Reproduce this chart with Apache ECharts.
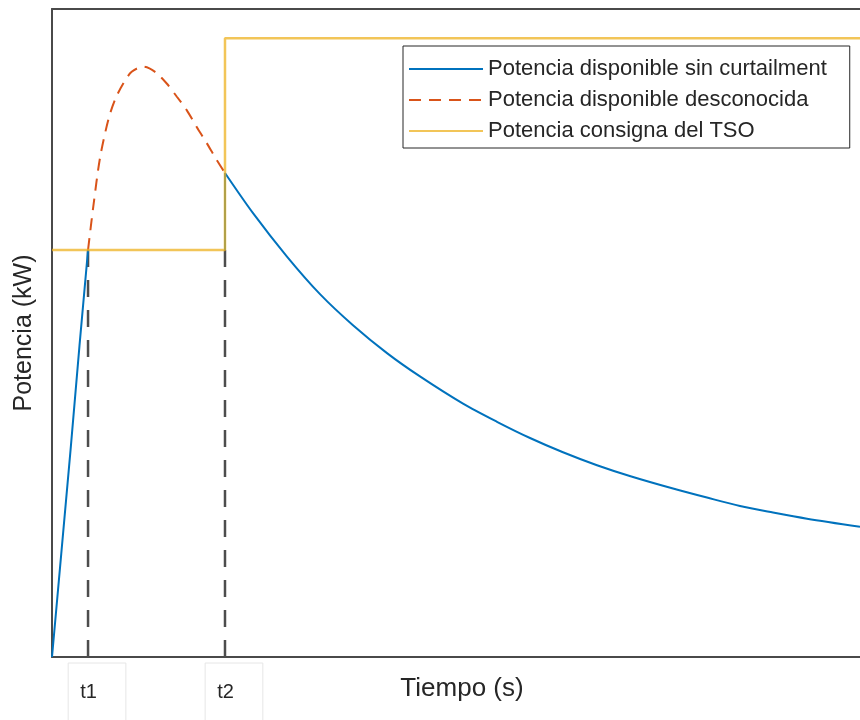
<!DOCTYPE html>
<html>
<head>
<meta charset="utf-8">
<script src="https://cdn.jsdelivr.net/npm/echarts@6/dist/echarts.min.js"></script>
<style>
  html, body { margin: 0; padding: 0; background: #fff; }
  #main { width: 860px; height: 720px; }
</style>
</head>
<body>
<div id="main"></div>
<script>
// marcas del eje x
var tickValues = [4.46, 21.41];
var tickLabels = ['t1', 't2'];

// consigna del TSO
var setpointX = [0, 21.41, 21.41, 100];
var setpointY = [62.8, 62.8, 95.5, 95.5];

// potencia disponible sin curtailment: subida hasta t1
var riseX = [0, 1.15, 2.3, 3.4, 4.46];
var riseY = [0, 16, 32, 48, 62.8];

// salto en t2
var stepX = [21.41, 21.41];
var stepY = [62.8, 74.7];

// potencia disponible sin curtailment (después de t2)
var decayX = [21.41, 24.88, 29.08, 33.17, 37.25, 41.46, 45.54, 50.87, 55.07, 59.16, 63.24, 67.45, 71.6, 76.86, 81.06, 85.15, 89.23, 93.44, 100];
var decayY = [74.7, 68.5, 61.8, 56.0, 51.2, 46.9, 43.3, 39.1, 36.3, 33.8, 31.6, 29.6, 27.9, 26.0, 24.6, 23.3, 22.3, 21.35, 20.1];

// potencia disponible desconocida
var unknownX = [4.46, 5.11, 5.94, 6.97, 7.80, 8.82, 9.86, 11.30, 12.75, 14.20, 15.43, 16.67, 17.91, 19.15, 20.38, 21.41];
var unknownY = [62.8, 69.5, 77.0, 82.9, 86.0, 88.5, 90.3, 91.1, 90.3, 88.5, 86.5, 84.4, 81.8, 79.3, 76.7, 74.7];

var FONT = 'Liberation Sans, Arial, sans-serif';

function zip(xs, ys) {
  var out = [];
  for (var i = 0; i < xs.length; i++) out.push([xs[i], ys[i]]);
  return out;
}

// subida + salto en una sola serie (cortada con '-')
var blueSteps = zip(riseX, riseY).concat([['-', '-']]).concat(zip(stepX, stepY));

// lineas verticales discontinuas en t1 y t2
var guideData = [];
tickValues.forEach(function (t, i) {
  if (i > 0) guideData.push(['-', '-']);
  guideData.push([t, 0]);
  guideData.push([t, setpointY[0]]);
});

var myChart = echarts.init(document.getElementById('main'));
var option = {
  animation: false,
  backgroundColor: '#fff',
  grid: { left: 52, right: 0, top: 9, bottom: 63, outerBoundsMode: 'none', containLabel: false },
  legend: {
    orient: 'vertical',
    left: 403,
    top: 46,
    padding: [12, 23, 6, 5],
    itemWidth: 74,
    itemHeight: 14,
    itemGap: 9,
    borderColor: '#262626',
    borderWidth: 1,
    backgroundColor: '#fff',
    itemStyle: { opacity: 0 },
    textStyle: { fontSize: 22, color: '#262626', fontFamily: FONT },
    data: ['Potencia disponible sin curtailment', 'Potencia disponible desconocida', 'Potencia consigna del TSO']
  },
  xAxis: [
    {
      type: 'value',
      min: 0,
      max: 100,
      name: 'Tiempo (s)',
      nameLocation: 'middle',
      nameGap: 19,
      nameMoveOverlap: false,
      nameTextStyle: { fontSize: 26, color: '#262626', fontFamily: FONT, padding: [0, 0, 0, 12] },
      axisLine: { show: true, lineStyle: { color: '#4a4a4a', width: 2 } },
      axisTick: { show: false },
      splitLine: { show: false },
      axisLabel: {
        show: true,
        customValues: tickValues,
        margin: 6,
        hideOverlap: false,
        formatter: function (v) {
          var best = 0;
          for (var i = 1; i < tickValues.length; i++) {
            if (Math.abs(tickValues[i] - v) < Math.abs(tickValues[best] - v)) best = i;
          }
          return '{pad|}{box|' + tickLabels[best] + '}';
        },
        rich: {
          pad: { width: 18 },
          box: {
            height: 58,
            padding: [0, 29, 0, 12],
            borderColor: '#e6e6e6',
            borderWidth: 1,
            fontSize: 20,
            color: '#262626',
            fontFamily: FONT
          }
        }
      }
    },
    {
      type: 'value',
      position: 'top',
      min: 0,
      max: 100,
      axisLine: { show: true, lineStyle: { color: '#4a4a4a', width: 2 } },
      axisTick: { show: false },
      axisLabel: { show: false },
      splitLine: { show: false }
    }
  ],
  yAxis: {
    type: 'value',
    min: 0,
    max: 100,
    name: 'Potencia (kW)',
    nameLocation: 'middle',
    nameGap: 15,
    nameMoveOverlap: false,
    nameTextStyle: { fontSize: 25, color: '#262626', fontFamily: FONT },
    axisLine: { show: true, lineStyle: { color: '#4a4a4a', width: 2 } },
    axisTick: { show: false },
    axisLabel: { show: false },
    splitLine: { show: false }
  },
  series: [
    {
      name: 'Potencia disponible sin curtailment',
      type: 'line',
      symbol: 'none',
      connectNulls: false,
      data: blueSteps,
      lineStyle: { color: '#0072BD', width: 2 },
      itemStyle: { color: '#0072BD' }
    },
    {
      name: 'Potencia disponible sin curtailment',
      type: 'line',
      symbol: 'none',
      smooth: 0.3,
      data: zip(decayX, decayY),
      lineStyle: { color: '#0072BD', width: 2 },
      itemStyle: { color: '#0072BD' }
    },
    {
      name: 'Potencia disponible desconocida',
      type: 'line',
      symbol: 'none',
      smooth: 0.3,
      data: zip(unknownX, unknownY),
      lineStyle: { color: '#D95319', width: 2, type: [12, 8] },
      itemStyle: { color: '#D95319' }
    },
    {
      name: 'Potencia consigna del TSO',
      type: 'line',
      symbol: 'none',
      data: zip(setpointX, setpointY),
      lineStyle: { color: '#EDB120', width: 2.5, opacity: 0.75 },
      itemStyle: { color: '#EDB120' }
    },
    {
      name: 'guias',
      type: 'line',
      symbol: 'none',
      connectNulls: false,
      data: guideData,
      lineStyle: { color: '#4d4d4d', width: 2.5, type: [17, 13] },
      z: 1
    }
  ]
};
myChart.setOption(option);
window.addEventListener('resize', function () {
  myChart.resize();
});
</script>
</body>
</html>
